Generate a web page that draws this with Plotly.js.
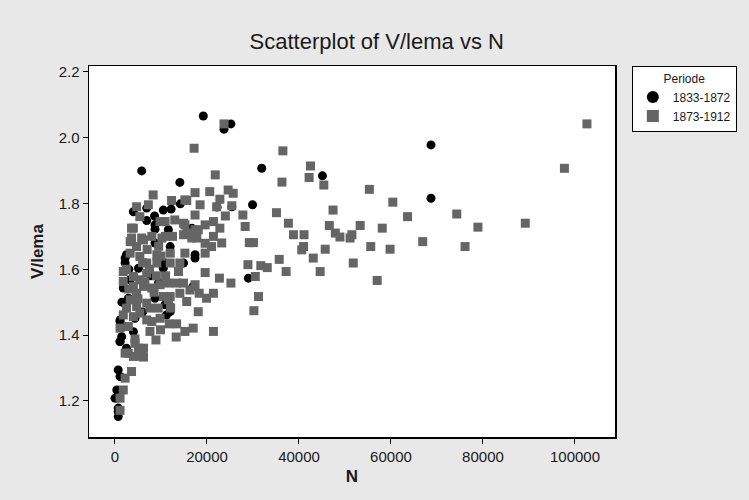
<!DOCTYPE html>
<html>
<head>
<meta charset="utf-8">
<script src="https://cdn.plot.ly/plotly-3.0.1.min.js"></script>
<style>html,body{margin:0;padding:0;background:#e8e8e8;}#chart{width:749px;height:500px;}</style>
</head>
<body>
<div id="chart"></div>
<script>
// Series 1: Periode 1833-1872 (black circles)
var seriesA_name = "1833-1872";
var seriesA_N = [19200,25200,23700,5800,31900,45100,14100,29900,68700,68700,22200,25400,4000,6900,10500,12200,14200,8600,6900,8700,8700,11600,8700,12000,16700,2500,17400,2200,2200,10900,10500,14900,17400,5100,3300,1800,2900,3300,17000,29000,10900,11200,12000,12000,8700,1100,1100,4350,4000,1450,1100,700,1100,400,400,700,700,700,1100,0,3000,1500,9500,6000,2500,7800];
var seriesA_V = [2.066,2.042,2.026,1.899,1.907,1.884,1.864,1.796,1.978,1.816,1.789,1.790,1.775,1.786,1.780,1.783,1.799,1.762,1.748,1.722,1.735,1.720,1.680,1.669,1.725,1.644,1.644,1.634,1.619,1.619,1.603,1.619,1.634,1.603,1.568,1.543,1.512,1.507,1.548,1.573,1.492,1.461,1.471,1.487,1.512,1.446,1.441,1.451,1.410,1.395,1.380,1.294,1.274,1.233,1.208,1.178,1.167,1.152,1.380,1.208,1.600,1.500,1.560,1.470,1.360,1.580];

// Series 2: Periode 1873-1912 (gray squares)
var seriesB_name = "1873-1912";
var seriesB_N = [102600,97700,89200,78900,76100,74300,66900,63600,60400,59800,57000,58100,55300,55600,53300,51800,51100,51500,48900,47900,47400,46600,45400,45700,44600,43100,42500,42200,41100,41000,40600,38800,37700,37200,36500,36300,35700,35100,33100,31700,31200,30500,30200,30100,29200,28900,28300,27800,25700,25400,25200,24600,24000,23700,23200,22800,22800,22700,22100,21800,21400,21400,21400,21400,21000,20600,19900,19600,19600,19600,19600,18500,18300,18100,18100,17800,17400,17400,17400,17400,17200,17000,16700,16300,15600,15600,15600,15200,15200,15200,15200,14900,14900,14900,14100,14100,13800,13400,13400,13300,12300,12100,12000,12000,12000,11800,11600,11600,10900,10500,10200,9900,9800,9800,9800,9400,9100,9100,8900,8300,8000,8000,7600,7600,7250,6900,6900,6900,6900,6200,6200,6200,5800,5800,5400,5400,5400,5400,5100,4700,4700,4700,4700,4350,4000,4000,4000,4000,4000,3600,3600,3600,3600,3300,3300,3300,2900,2900,2500,2200,2200,1800,1800,1800,1800,1100,1100,1100,8000,7000,9000,10000,6000,11000,8500,7500,9500,5000,3000,2500,6500,12500,13000,11000,6200,4350];
var seriesB_V = [2.042,1.907,1.740,1.728,1.669,1.768,1.684,1.760,1.804,1.661,1.566,1.725,1.843,1.669,1.733,1.619,1.695,1.705,1.698,1.710,1.780,1.733,1.856,1.661,1.593,1.634,1.914,1.879,1.705,1.669,1.659,1.705,1.740,1.593,1.960,1.865,1.630,1.772,1.605,1.611,1.517,1.578,1.474,1.681,1.681,1.614,1.730,1.765,1.831,1.793,1.558,1.841,1.762,2.042,1.680,1.813,1.725,1.573,1.790,1.887,1.745,1.700,1.527,1.411,1.669,1.836,1.512,1.735,1.679,1.649,1.590,1.796,1.527,1.720,1.471,1.695,1.833,1.765,1.720,1.553,1.968,1.421,1.695,1.537,1.809,1.710,1.502,1.811,1.735,1.649,1.411,1.740,1.705,1.558,1.619,1.527,1.593,1.558,1.434,1.394,1.809,1.482,1.649,1.619,1.517,1.434,1.558,1.507,1.745,1.517,1.695,1.416,1.745,1.553,1.451,1.482,1.644,1.619,1.385,1.826,1.543,1.441,1.482,1.411,1.796,1.619,1.588,1.497,1.446,1.689,1.548,1.333,1.695,1.335,1.760,1.639,1.568,1.467,1.360,1.790,1.669,1.527,1.487,1.388,1.725,1.578,1.548,1.456,1.335,1.725,1.695,1.684,1.289,1.684,1.649,1.507,1.426,1.345,1.482,1.345,1.269,1.593,1.563,1.461,1.233,1.421,1.208,1.171,1.700,1.660,1.580,1.640,1.620,1.580,1.530,1.600,1.670,1.510,1.540,1.600,1.560,1.700,1.750,1.700,1.360,1.375];

// Axis ticks
var xTicks = [0,20000,40000,60000,80000,100000];
var xTickLabels = ["0","20000","40000","60000","80000","100000"];
var yTicks = [1.2,1.4,1.6,1.8,2.0,2.2];
var yTickLabels = ["1.2","1.4","1.6","1.8","2.0","2.2"];

var FONT = "Liberation Sans, Arial, sans-serif";

var traces = [
  {
    type: "scatter", mode: "markers", name: seriesA_name,
    x: seriesA_N, y: seriesA_V,
    marker: {symbol: "circle", size: 9, color: "#000000", line: {width: 0}}
  },
  {
    type: "scatter", mode: "markers", name: seriesB_name,
    x: seriesB_N, y: seriesB_V,
    marker: {symbol: "square", size: 9, color: "#656565", line: {width: 0}}
  }
];

var layout = {
  width: 749, height: 500,
  paper_bgcolor: "#e8e8e8",
  plot_bgcolor: "#ffffff",
  margin: {l: 89, r: 134, t: 66, b: 63, pad: 0},
  title: {text: "Scatterplot of V/lema vs N", x: 0.503, xref: "container", xanchor: "center", y: 0.918, yanchor: "middle",
          font: {family: FONT, size: 22, color: "#1a1a1a"}},
  xaxis: {
    range: [-5650, 108700], tickmode: "array", tickvals: xTicks, ticktext: xTickLabels,
    showgrid: false, zeroline: false, showline: true, linecolor: "#000", linewidth: 1.5, mirror: true,
    ticks: "outside", ticklen: 5, tickcolor: "#000", tickwidth: 1,
    tickfont: {family: FONT, size: 15, color: "#1a1a1a"},
    title: {text: "<b>N</b>", font: {family: FONT, size: 17, color: "#1a1a1a"}, standoff: 6}
  },
  yaxis: {
    range: [1.09, 2.218], tickmode: "array", tickvals: yTicks, ticktext: yTickLabels,
    showgrid: false, zeroline: false, showline: true, linecolor: "#000", linewidth: 1.5, mirror: true,
    ticks: "outside", ticklen: 5, tickcolor: "#000", tickwidth: 1,
    tickfont: {family: FONT, size: 15, color: "#1a1a1a"},
    title: {text: "<b>V/lema</b>", font: {family: FONT, size: 17, color: "#1a1a1a"}, standoff: 10}
  },
  showlegend: true,
  legend: {
    x: 1.032, y: 1.0, xanchor: "left", yanchor: "top",
    bgcolor: "#ffffff", bordercolor: "#000", borderwidth: 1,
    font: {family: FONT, size: 12, color: "#1a1a1a"},
    title: {text: "Periode", side: "top center", font: {family: FONT, size: 12, color: "#1a1a1a"}},
    tracegroupgap: 0, itemsizing: "constant", itemwidth: 30
  }
};

Plotly.newPlot("chart", traces, layout, {displayModeBar: false, staticPlot: true});
</script>
</body>
</html>
